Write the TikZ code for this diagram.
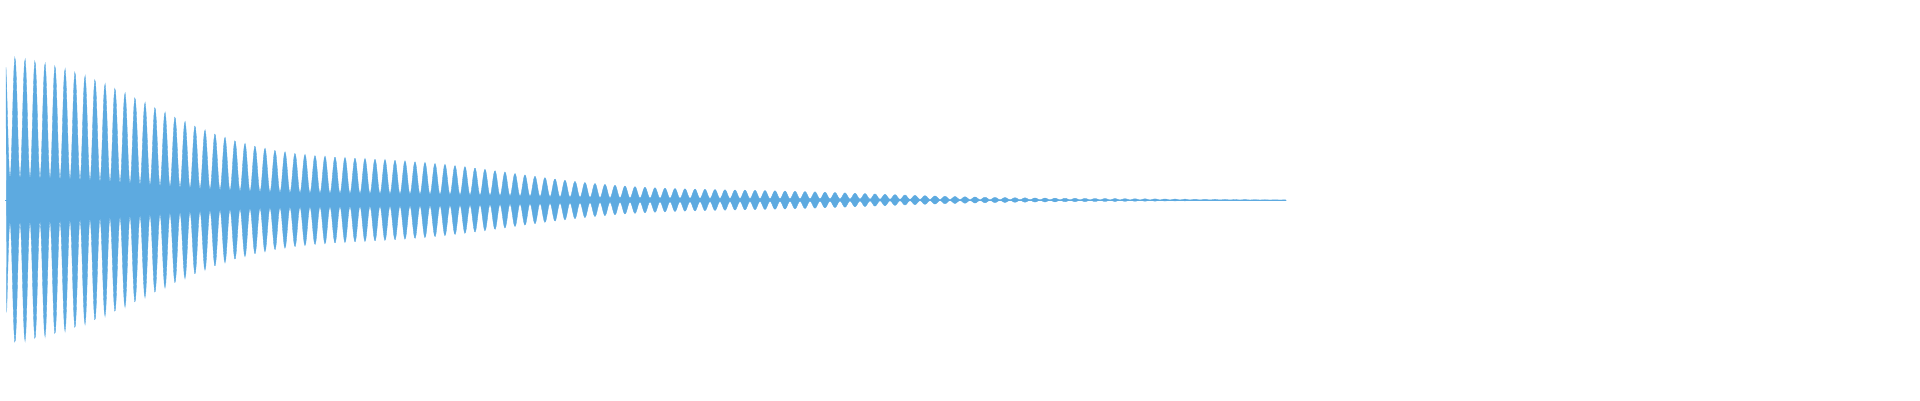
\documentclass[tikz,border=0pt]{standalone}
\usepackage{tikz}
\tikzset{wave/.style={fill=waveblue, draw=waveblue, line width=0.1pt}}
\definecolor{waveblue}{HTML}{5DAAE0}
\begin{document}
\begin{tikzpicture}
\useasboundingbox (0,0) rectangle (19.2,4);
\draw[waveblue, line width=0.2pt] (0.05,2) -- (12.86,2);
\fill[wave] plot[domain=0.06:12.86, samples=1600]
  (\x,{2+1.65*exp(-\x/4.0)*(1-\x/13.2)*(0.88+0.12*sin(\x*97))*(0.15+0.85*sin(mod(\x*10,1)*180)^2)})
  -- plot[domain=12.86:0.06, samples=1600]
  (\x,{2-1.65*exp(-\x/4.0)*(1-\x/13.2)*(0.88+0.12*sin(\x*97))*(0.15+0.85*sin(mod(\x*10,1)*180)^2)}) -- cycle;
\end{tikzpicture}
\end{document}
